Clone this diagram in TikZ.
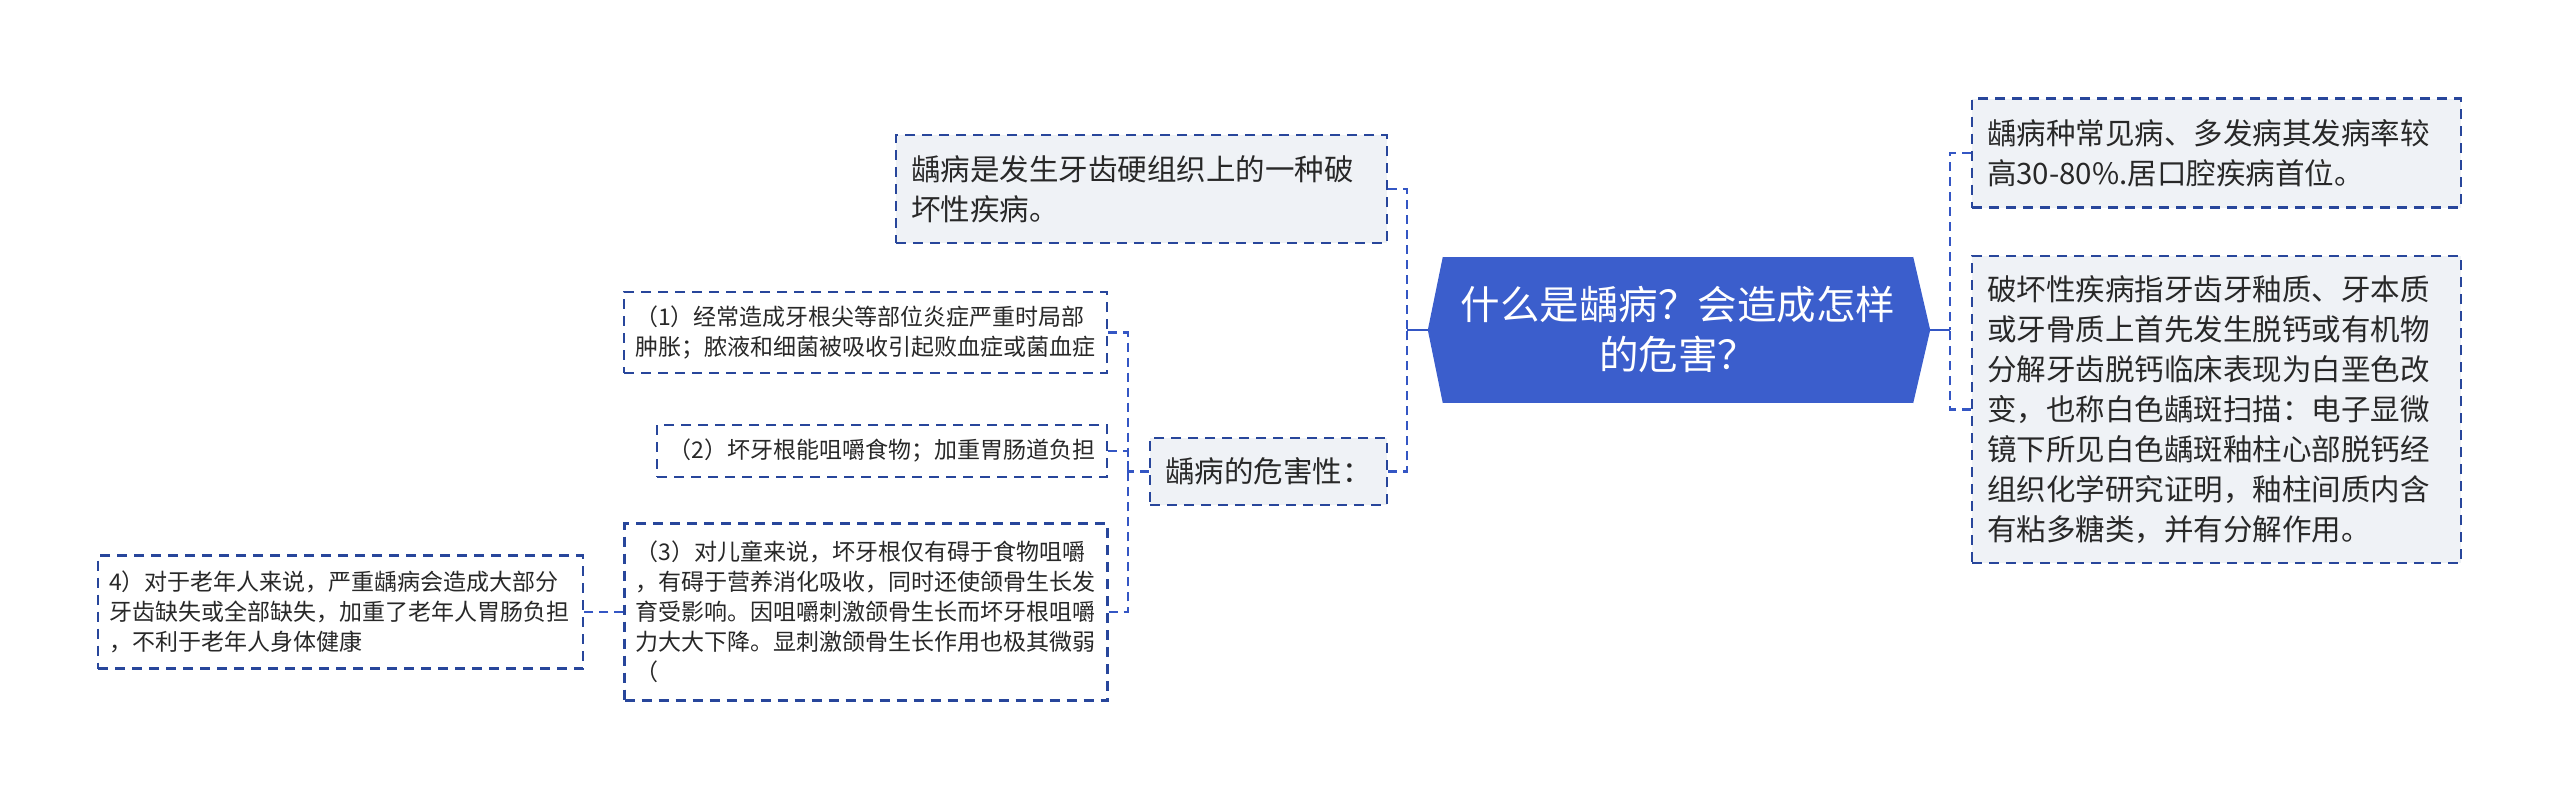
\documentclass[tikz,border=0pt]{standalone}
\usepackage{fontspec}
\setmainfont{Noto Sans CJK SC}
\usetikzlibrary{positioning,calc}
\definecolor{rootblue}{RGB}{59,94,204}
\definecolor{boxfill}{RGB}{239,242,246}
\definecolor{boxline}{RGB}{40,70,155}
\definecolor{lnkblue}{RGB}{52,86,196}
\definecolor{txt}{RGB}{40,40,40}

\begin{document}
\begin{tikzpicture}[x=1pt,y=-1pt,
 rootnode/.style={fill=rootblue,text=white,minimum width=470pt,minimum height=146pt,text width=450pt,align=center,inner sep=0pt,font=\fontsize{39.5}{50}\selectfont},
 box/.style={draw=boxline,line width=2.2pt,dash pattern=on 10pt off 7pt,fill=boxfill,text=txt,align=left,inner xsep=15pt,inner ysep=0pt,font=\fontsize{29.5}{40}\selectfont},
 sub/.style={box,fill=white,inner xsep=11pt,font=\fontsize{23}{30}\selectfont},
 lnk/.style={draw=lnkblue,line width=2.6pt,dash pattern=on 9pt off 6pt},
 trunk/.style={draw=lnkblue,line width=2pt}]
\useasboundingbox (0,0) rectangle (2560,795);
% centre
\node[rootnode] (root) at (1678,330) {什么是龋病？会造成怎样\\的危害？};
\coordinate (tipl) at ([xshift=-15pt]root.west);
\coordinate (tipr) at ([xshift=17pt]root.east);
\fill[rootblue] (root.north west) -- (tipl) -- (root.south west) -- cycle;
\fill[rootblue] (root.north east) -- (tipr) -- (root.south east) -- cycle;
% right side
\node[box,text width=459pt,minimum height=109pt] (stat) at (2216.5,153) {龋病种常见病、多发病其发病率较\\高30-80\%.居口腔疾病首位。};
\node[box,text width=459pt,minimum height=307pt] (detail) at (2216.5,409.5) {破坏性疾病指牙齿牙釉质、牙本质\\或牙骨质上首先发生脱钙或有机物\\分解牙齿脱钙临床表现为白垩色改\\变，也称白色龋斑扫描：电子显微\\镜下所见白色龋斑釉柱心部脱钙经\\组织化学研究证明，釉柱间质内含\\有粘多糖类，并有分解作用。};
% left side
\node[box,text width=461pt,minimum height=108pt] (def) at (1141.5,189) {龋病是发生牙齿硬组织上的一种破\\坏性疾病。};
\node[box,text width=207pt,minimum height=67pt] (hazard) at (1268.5,471.5) {龋病的危害性：};
\node[sub,text width=461pt,minimum height=81pt] (h1) at (865.5,332.5) {（1）经常造成牙根尖等部位炎症严重时局部\\肿胀；脓液和细菌被吸收引起败血症或菌血症};
\node[sub,text width=428pt,minimum height=52pt,align=center] (h2) at (882,451) {（2）坏牙根能咀嚼食物；加重胃肠道负担};
\node[sub,text width=461pt,minimum height=177pt] (h3) at (866,612) {（3）对儿童来说，坏牙根仅有碍于食物咀嚼\\，有碍于营养消化吸收，同时还使颌骨生长发\\育受影响。因咀嚼刺激颌骨生长而坏牙根咀嚼\\力大大下降。显刺激颌骨生长作用也极其微弱\\（};
\node[sub,text width=463pt,minimum height=113pt] (h4) at (340.5,612) {4）对于老年人来说，严重龋病会造成大部分\\牙齿缺失或全部缺失，加重了老年人胃肠负担\\，不利于老年人身体健康};
% connectors
\coordinate (jl) at (1407,330);
\coordinate (jr) at (1950,330);
\coordinate (jh) at (1128,471.5);
\draw[trunk] (tipl) -- (jl);
\draw[trunk] (tipr) -- (jr);
\draw[lnk] (def.east) -| (jl);
\draw[lnk] (hazard.east) -| (jl);
\draw[lnk] (stat.west) -| (jr);
\draw[lnk] (detail.west) -| (jr);
\draw[lnk] (hazard.west) -- (jh);
\foreach \n in {h1,h2,h3}{\draw[lnk] (\n.east) -| (jh);}
\draw[lnk] (h3.west) -- (h4.east);
\end{tikzpicture}
\end{document}
